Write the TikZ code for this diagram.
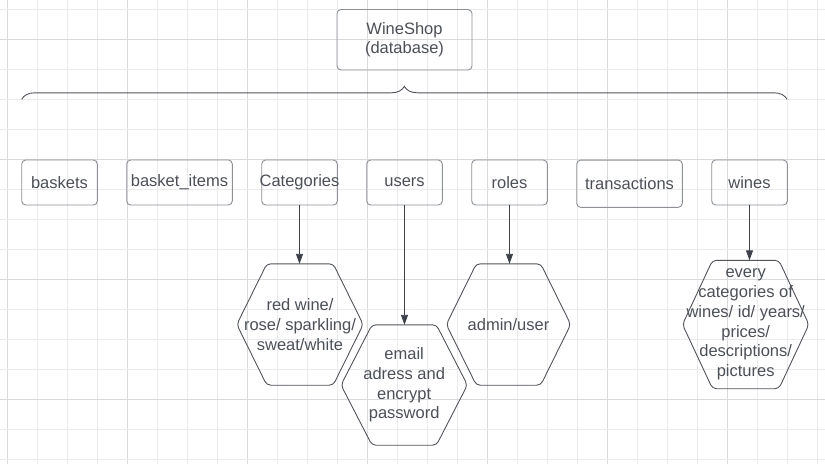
\documentclass[tikz,border=0pt]{standalone}
\usepackage{fontspec}
\setmainfont{Liberation Sans}
\usetikzlibrary{arrows.meta,decorations.pathreplacing}
\definecolor{gridA}{HTML}{EBEBEB}
\definecolor{gridB}{HTML}{DADADA}
\definecolor{txt}{HTML}{4B5058}
\definecolor{boxline}{HTML}{8C9097}
\definecolor{hexline}{HTML}{50555D}
\definecolor{arrline}{HTML}{3D424A}
\tikzset{
  box/.style={draw=boxline, line width=0.9pt, rounded corners=4pt, inner sep=0pt,
    minimum width=75.6pt, minimum height=45pt, text=txt, align=center,
    font=\fontsize{16.5pt}{19.8pt}\selectfont},
  hexbox/.style={inner sep=0pt, text=txt, align=center,
    font=\fontsize{16.5pt}{19.8pt}\selectfont},
  hexedge/.style={draw=hexline, line width=0.9pt, rounded corners=4pt},
  conn/.style={draw=arrline, line width=0.9pt, -{Triangle[length=10pt,width=7pt]}},
  bracestyle/.style={draw=hexline, line width=0.9pt,
    decorate, decoration={brace, amplitude=13pt}},
}
\newcommand{\hexout}[2]{%
  \draw[hexedge] (#1.west) -- ([xshift=#2]#1.north west) -- ([xshift=-#2]#1.north east)
   -- (#1.east) -- ([xshift=-#2]#1.south east) -- ([xshift=#2]#1.south west) -- cycle;}
\begin{document}
\begin{tikzpicture}[x=1pt,y=-1pt]
\useasboundingbox (0,0) rectangle (825,464);
\fill[white] (0,0) rectangle (825,464);
% grid
\foreach \i in {0,...,27} {
  \pgfmathsetmacro{\gx}{7.3+30*\i}
  \pgfmathtruncatemacro{\m}{mod(\i,4)}
  \ifnum\m=0 \draw[gridB, line width=0.8pt] (\gx,0) -- (\gx,464);
  \else \draw[gridA, line width=0.8pt] (\gx,0) -- (\gx,464); \fi
}
\foreach \j in {0,...,15} {
  \pgfmathsetmacro{\gy}{9.3+30*\j}
  \pgfmathtruncatemacro{\m}{mod(\j+3,4)}
  \ifnum\m=0 \draw[gridB, line width=0.8pt] (0,\gy) -- (825,\gy);
  \else \draw[gridA, line width=0.8pt] (0,\gy) -- (825,\gy); \fi
}
% root
\node[box, minimum width=135pt, minimum height=60.5pt] (root) at (404.5,39.75) {WineShop\\(database)};
% brace
\coordinate (bl) at (21.7,99.3);
\coordinate (br) at (787,99.3);
\draw[bracestyle] (bl) -- (br);
% tables
\node[box] (baskets) at (59.5,182.5) {baskets};
\node[box, minimum width=105.6pt] (items) at (179.5,182.5) {basket\_items};
\node[box] (cat) at (299.5,182.5) {\makebox[0pt][c]{Categories}};
\node[box] (users) at (404.5,182.5) {users};
\node[box] (roles) at (509.5,182.5) {roles};
\node[box, minimum width=105.6pt, minimum height=47.3pt] (trans) at (629.5,183.7) {transactions};
\node[box] (wines) at (749.5,182.5) {wines};
% hexagons
\node[hexbox, minimum width=126pt, minimum height=121pt] (hr) at (300,324.5) {red wine/\\rose/ sparkling/\\sweat/white};
\node[hexbox, minimum width=126pt, minimum height=120pt] (he) at (404.2,385) {email\\adress and\\encrypt\\password};
\node[hexbox, minimum width=124pt, minimum height=121pt] (ha) at (508.5,324.5) {admin/user};
\node[hexbox, minimum width=126pt, minimum height=128pt] (hw) at (745.7,324.5) {\makebox[0pt][c]{every}\\\makebox[0pt][c]{categories of}\\\makebox[0pt][c]{wines/ id/ years/}\\\makebox[0pt][c]{prices/}\\\makebox[0pt][c]{descriptions/}\\\makebox[0pt][c]{pictures}};
\hexout{hr}{30pt}
\hexout{he}{31pt}
\hexout{ha}{30pt}
\hexout{hw}{30pt}
% connectors
\draw[conn] (cat.south) -- (cat.south |- hr.north);
\draw[conn] (users.south) -- (users.south |- he.north);
\draw[conn] (roles.south) -- (roles.south |- ha.north);
\draw[conn] (wines.south) -- (wines.south |- hw.north);
\end{tikzpicture}
\end{document}
